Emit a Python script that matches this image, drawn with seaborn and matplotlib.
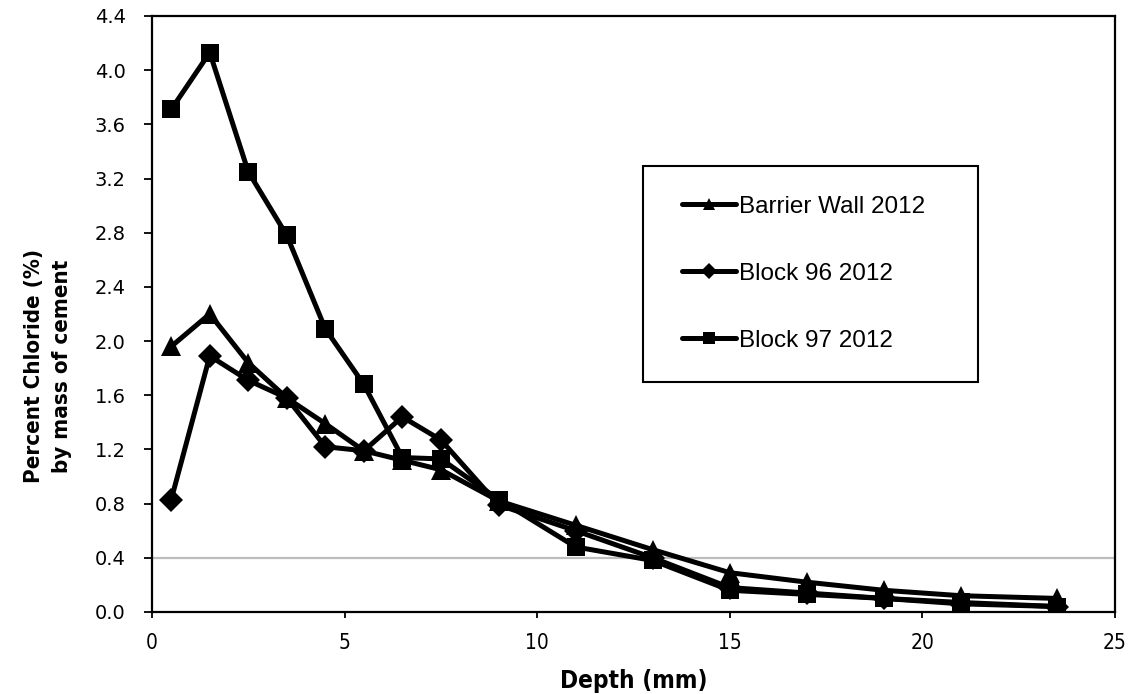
import matplotlib
matplotlib.use("Agg")
import matplotlib.pyplot as plt
import seaborn as sns
import pandas as pd
from matplotlib.ticker import FormatStrFormatter
from matplotlib.lines import Line2D
from matplotlib.legend_handler import HandlerLine2D

depth = [0.5, 1.5, 2.5, 3.5, 4.5, 5.5, 6.5, 7.5, 9, 11, 13, 15, 17, 19, 21, 23.5]
barrier_wall = [1.96, 2.20, 1.84, 1.58, 1.39, 1.19, 1.12, 1.05, 0.82, 0.64, 0.46, 0.29, 0.22, 0.16, 0.12, 0.10]
block96 = [0.83, 1.89, 1.71, 1.58, 1.22, 1.19, 1.44, 1.27, 0.79, 0.60, 0.40, 0.18, 0.14, 0.10, 0.06, 0.04]
block97 = [3.71, 4.13, 3.25, 2.78, 2.09, 1.68, 1.14, 1.13, 0.83, 0.48, 0.38, 0.16, 0.13, 0.10, 0.07, 0.04]
series_names = ["Barrier Wall 2012", "Block 96 2012", "Block 97 2012"]
threshold = 0.4

df = pd.concat([
    pd.DataFrame({"Depth": depth, "Chloride": vals, "Series": name})
    for name, vals in zip(series_names, [barrier_wall, block96, block97])
], ignore_index=True)

sns.set_style("white")
plt.rcParams['font.family'] = ['DejaVu Sans']
plt.rcParams['text.color'] = 'black'
plt.rcParams['axes.labelcolor'] = 'black'
plt.rcParams['xtick.color'] = 'black'
plt.rcParams['ytick.color'] = 'black'

fig = plt.figure(figsize=(11.29, 6.94), dpi=100)
ax = fig.add_axes([0.1346, 0.1182, 0.853, 0.8588])

ax.axhline(threshold, color="#bdbdbd", lw=1.6, zorder=1)

markers = {"Barrier Wall 2012": "^", "Block 96 2012": "D", "Block 97 2012": "s"}
sns.lineplot(data=df, x="Depth", y="Chloride", hue="Series", style="Series",
             palette={n: "black" for n in series_names},
             markers=markers, dashes=False, markersize=13, linewidth=3.6,
             markeredgewidth=0, ax=ax, zorder=3)
for ln in ax.lines:
    if ln.get_marker() == "^":
        ln.set_markersize(15)
    elif ln.get_marker() == "D":
        ln.set_markersize(12)

ax.set_xlim(0, 25)
ax.set_ylim(0, 4.4)
ax.set_xticks([0, 5, 10, 15, 20, 25])
ax.set_yticks([0.0, 0.4, 0.8, 1.2, 1.6, 2.0, 2.4, 2.8, 3.2, 3.6, 4.0, 4.4])
ax.yaxis.set_major_formatter(FormatStrFormatter("%.1f"))

for s in ax.spines.values():
    s.set_visible(True)
    s.set_color("black")
    s.set_linewidth(1.6)

ax.tick_params(axis="both", which="major", direction="out", width=1.3,
               color="black", labelcolor="black", bottom=True, left=True)
ax.tick_params(axis="x", length=4.5, pad=11)
ax.tick_params(axis="y", length=6, pad=13)
for lab in ax.get_yticklabels():
    lab.set_fontsize(14)
for lab in ax.get_xticklabels():
    lab.set_fontsize(15)
    lab.set_fontstretch("condensed")

ax.set_xlabel("Depth (mm)", fontsize=17.5, fontweight="bold", fontstretch="condensed")
ax.xaxis.set_label_coords(0.5, -0.095)
ax.set_ylabel("Percent Chloride (%)\nby mass of cement", fontsize=16, fontweight="bold",
              fontstretch="condensed", linespacing=1.5)
ax.yaxis.set_label_coords(-0.083, 0.413)

handles, labels = ax.get_legend_handles_labels()
for h in handles:
    h.set_markersize(8)
    h.set_linewidth(3.6)
leg = ax.legend(handles, labels, loc="lower left",
                bbox_to_anchor=(0.51, 0.386, 0.348, 0.366), mode="expand",
                borderaxespad=0,
                frameon=True, fancybox=False, framealpha=1, edgecolor="black",
                prop={"family": ["Liberation Sans", "DejaVu Sans"], "size": 17.5},
                labelspacing=1.85, borderpad=1.24, handlelength=2.6, handletextpad=0.1,
                handler_map={Line2D: HandlerLine2D(xpad=0.37)})
leg.get_frame().set_linewidth(1.5)

fig.savefig("out.png", dpi=100)
